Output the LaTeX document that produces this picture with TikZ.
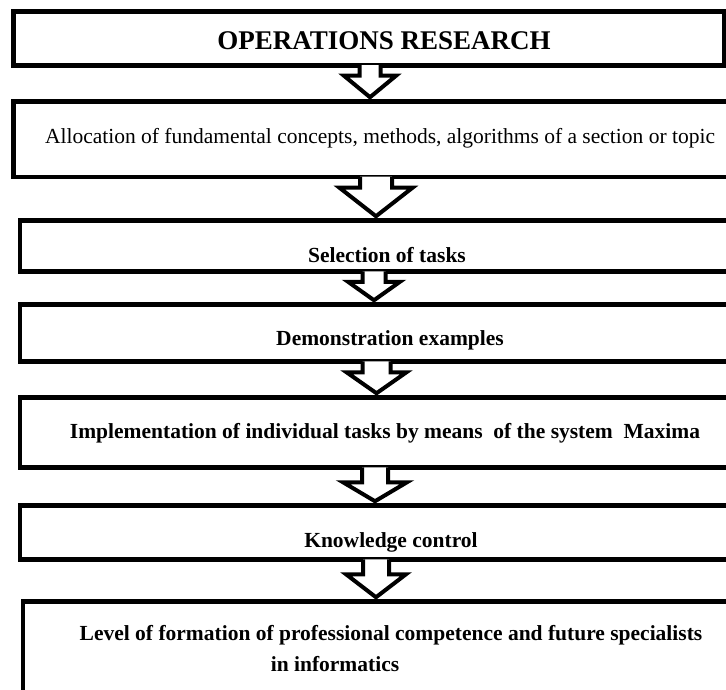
\documentclass[tikz,border=0pt]{standalone}
\usepackage{fontspec}
\setmainfont{Liberation Serif}
\usetikzlibrary{calc}

\tikzset{
	box/.style={draw=black, line width=4.5pt, fill=white, inner sep=0pt},
	boxtext/.style={font=\bfseries\fontsize{21.5}{25}\selectfont, inner sep=0pt, anchor=base}
}

% block arrow from the bottom of #1 to the top of #2
% #3 x of the arrow, #4 half stem, #5 half head, #6 stem length
\newcommand{\blockarrow}[6]{%
	\draw[line width=4pt, fill=white] let \p1=(#3,0 |- #1.south), \p2=(#3,0 |- #2.north) in
		(\x1-#4pt,\y1+2.5pt) -- (\x1-#4pt,\y1-#6pt) -- (\x1-#5pt,\y1-#6pt) -- (\x2,\y2+2pt)
		-- (\x1+#5pt,\y1-#6pt) -- (\x1+#4pt,\y1-#6pt) -- (\x1+#4pt,\y1+2.5pt);
}

\begin{document}
\begin{tikzpicture}[x=1pt, y=-1pt]
		\useasboundingbox (0,0) rectangle (726,690);
		\clip (0,0) rectangle (726,690);
		\fill[white] (0,0) rectangle (726,690);
		% the boxes, most of them run past the right edge
		\node[box, minimum width=710.5pt, minimum height=54pt] (b1) at (368.75,38.5) {};
		\node[box, minimum width=746.5pt, minimum height=75.5pt] (b2) at (386.75,139.25) {};
		\node[box, minimum width=740pt, minimum height=51pt] (b3) at (390,246) {};
		\node[box, minimum width=740pt, minimum height=57pt] (b4) at (390,333) {};
		\node[box, minimum width=740pt, minimum height=70pt] (b5) at (390,432.5) {};
		\node[box, minimum width=740pt, minimum height=54pt] (b6) at (390,532.5) {};
		\node[box, minimum width=737pt, minimum height=118.5pt] (b7) at (391.5,660.75) {};
		% arrows
		\blockarrow{b1}{b2}{370}{10.5}{26}{8}
		\blockarrow{b2}{b3}{376}{16}{36.5}{8.5}
		\blockarrow{b3}{b4}{374}{11.5}{26}{8}
		\blockarrow{b4}{b5}{376.5}{14}{30}{8.5}
		\blockarrow{b5}{b6}{375}{13}{32}{12.5}
		\blockarrow{b6}{b7}{376}{13}{30}{12.5}
		% texts
		\node[boxtext, font=\bfseries\fontsize{27}{30}\selectfont] (t1) at (384,50) {OPERATIONS RESEARCH};
		\node[boxtext, font=\fontsize{21.5}{25}\selectfont] (t2) at (380,144) {Allocation of fundamental concepts, methods, algorithms of a section or topic};
		\node[boxtext] (t3) at (387,262) {Selection of tasks};
		\node[boxtext] (t4) at (390,345) {Demonstration examples};
		\node[boxtext] (t5) at (385,438) {Implementation of individual tasks by means~ of the system~ Maxima};
		\node[boxtext] (t6) at (391,547) {Knowledge control};
		\node[boxtext, anchor=center, align=center, font=\bfseries\fontsize{21.5}{31}\selectfont] (t7) at (391,648.5) {Level of formation of professional competence and future specialists\\in informatics\hspace*{112pt}};
	\end{tikzpicture}
\end{document}
